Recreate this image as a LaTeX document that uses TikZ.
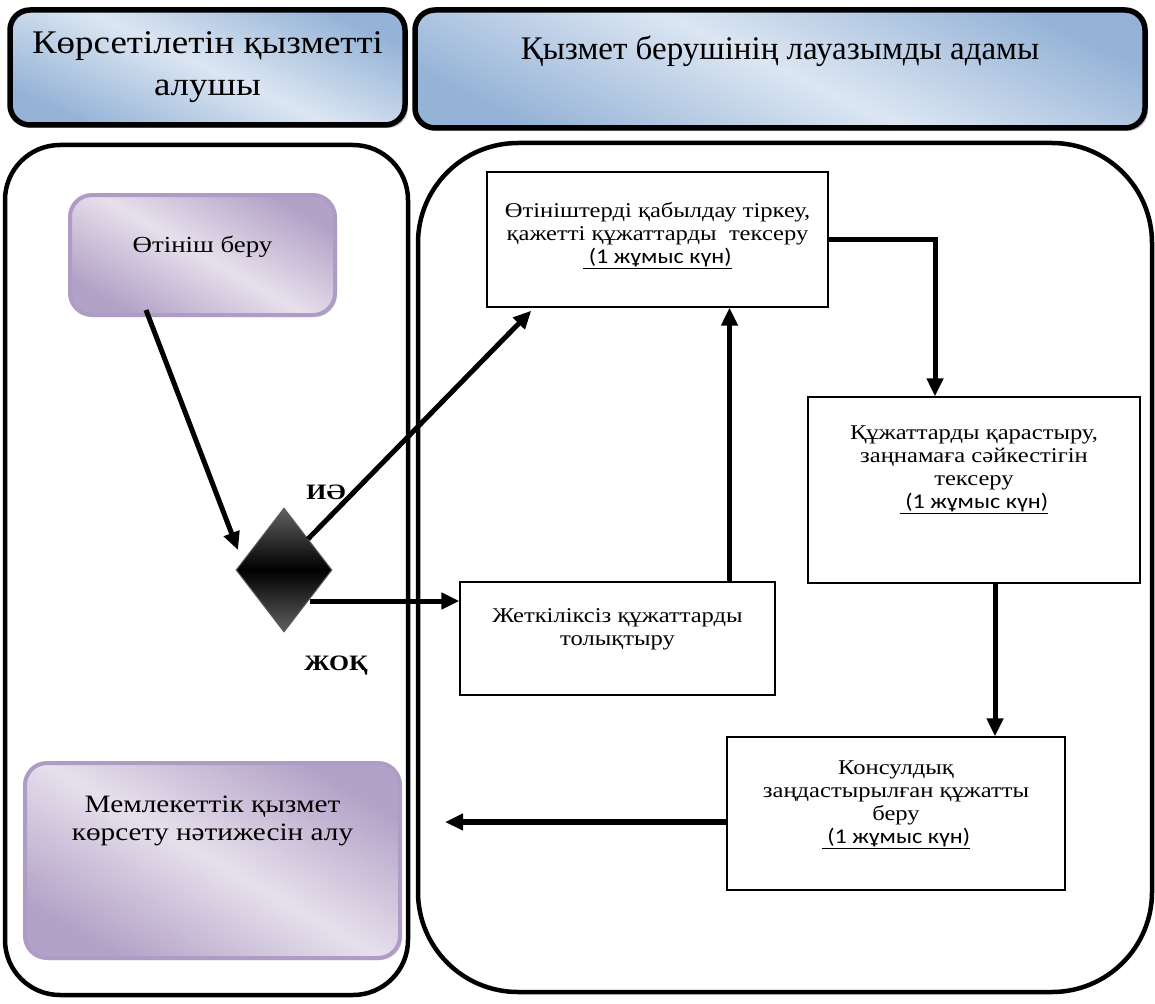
\documentclass[tikz,border=0pt]{standalone}
\usepackage{fontspec}
\setmainfont{Liberation Serif}
\newfontfamily\widefont[FakeStretch=1.17]{Liberation Serif}
\newfontfamily\ltitlefont[FakeStretch=1.12]{Liberation Serif}
\newfontfamily\calibfont[FakeStretch=1.15]{Carlito}
\usetikzlibrary{arrows.meta,shapes.geometric,shadows,calc}
\definecolor{hdark}{HTML}{95B3D7}
\definecolor{hlight}{HTML}{DCE6F2}
\definecolor{pdark}{HTML}{B3A2C7}
\definecolor{plight}{HTML}{E6E0EC}
\definecolor{pborder}{HTML}{AE9CC4}
\newcommand{\dayline}{\underline{\calibfont\ (1 жұмыс күн)}}
\begin{document}
\begin{tikzpicture}[x=1pt,y=-1pt,
  hdr/.style={draw=black, line width=5.5pt, rounded corners=20pt,
    top color=hdark, bottom color=hdark, middle color=hlight, shading angle=-25,
    drop shadow={opacity=0.45, shadow xshift=3pt, shadow yshift=-3pt},
    align=center, font=\fontsize{33}{42}\selectfont, inner sep=0pt},
  lane/.style={draw=black, line width=4.5pt},
  pbox/.style={draw=pborder, line width=4pt, rounded corners=22pt,
    top color=pdark, bottom color=pdark, middle color=plight, shading angle=-30,
    drop shadow={opacity=0.3, shadow xshift=2pt, shadow yshift=-2pt},
    align=center, inner sep=0pt},
  sbox/.style={draw=black, line width=1.4pt, fill=white, align=center, inner sep=0pt,
    font=\widefont\fontsize{21}{23}\selectfont},
  arr/.style={line width=5pt, -{Triangle[length=18pt,width=16pt]}},
  lbl/.style={font=\widefont\fontsize{22}{24}\selectfont\bfseries, inner sep=0pt}
]
\useasboundingbox (0,0) rectangle (1155,1003);

% headers
\node[hdr, minimum width=395pt, minimum height=115pt, font=\ltitlefont\fontsize{33}{42}\selectfont] (h1) at (207.5,67.5)
  {Көрсетілетін қызметті\\алушы};
\node[hdr, minimum width=730pt, minimum height=118pt] (h2) at (780,69)
  {Қызмет берушінің лауазымды адамы\\\mbox{}};

% lanes
\node[lane, rounded corners=55pt, minimum width=403pt, minimum height=850pt] (ll) at (206.5,570) {};
\node[lane, rounded corners=100pt, minimum width=734pt, minimum height=849pt] (rl) at (785,567.5) {};

% left-lane boxes
\node[pbox, minimum width=265pt, minimum height=120pt, font=\widefont\fontsize{23}{28}\selectfont] (p1) at (202.5,255)
  {Өтініш беру\\[-6pt]\mbox{}};
\node[pbox, minimum width=375pt, minimum height=195pt, font=\widefont\fontsize{25}{28}\selectfont] (p2) at (212.5,860.5)
  {Мемлекеттік қызмет\\көрсету нәтижесін алу\\\mbox{}\\\mbox{}\\\mbox{}};

% decision
\node[diamond, aspect=0.774, minimum width=96pt, minimum height=124pt, inner sep=0pt,
  draw=gray!70!black, line width=1pt,
  top color=black!62, bottom color=black!62, middle color=black] (d) at (284,570) {};
\node[lbl] (yes) at (326,492) {ИӘ};
\node[lbl] (no) at (336,666) {ЖОҚ};

% right-lane boxes
\node[sbox, minimum width=341pt, minimum height=135pt] (b1) at (657.5,239.5)
  {Өтініштерді қабылдау тіркеу,\\қажетті құжаттарды\ \ тексеру\\\dayline\\[-10pt]\mbox{}};
\node[sbox, minimum width=332pt, minimum height=186pt] (b2) at (974,490)
  {Құжаттарды қарастыру,\\заңнамаға сәйкестігін\\тексеру\\\dayline\\\mbox{}\\\mbox{}};
\node[sbox, minimum width=315pt, minimum height=113pt] (b3) at (617.5,638.5)
  {Жеткіліксіз құжаттарды\\толықтыру\\\mbox{}};
\node[sbox, minimum width=338pt, minimum height=153pt] (b4) at (896,813.5)
  {Консулдық\\заңдастырылған құжатты\\беру\\\dayline\\\mbox{}};

\coordinate (e7) at (445,822);

% connectors
\draw[arr] ([xshift=78pt,yshift=7pt]p1.south west) -- ([xshift=-46pt,yshift=20pt]d.center);
\draw[arr] ([xshift=24pt,yshift=31pt]d.center) -- ([xshift=45pt,yshift=-3pt]b1.south west);
\draw[arr] ([xshift=26pt,yshift=-31pt]d.center) -- ([yshift=-31pt]d.center -| b3.west);
\draw[arr] ([xshift=112pt]b3.north) -- ([xshift=112pt]b3.north |- b1.south);
\draw[arr] (b1.east) -| ([xshift=-39pt]b2.north);
\draw[arr] ([xshift=21pt]b2.south) -- ([xshift=21pt]b2.south |- b4.north);
\draw[arr, line width=6.5pt] (b4.west |- e7) -- (e7);
\end{tikzpicture}
\end{document}
